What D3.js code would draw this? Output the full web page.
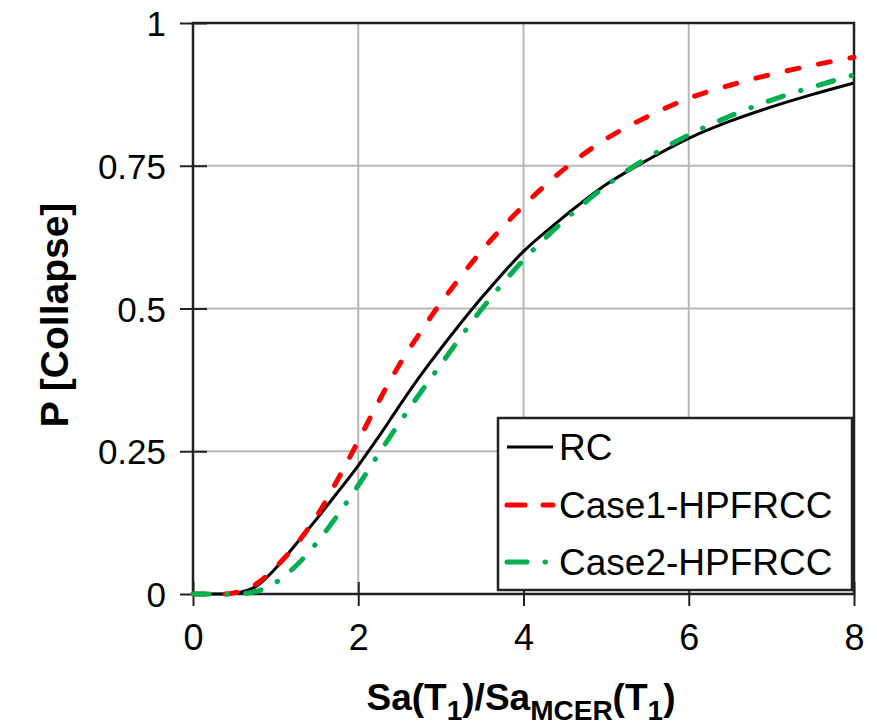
<!DOCTYPE html>
<html>
<head>
<meta charset="utf-8">
<script src="https://cdn.jsdelivr.net/npm/d3@7"></script>
<style>
  body { margin: 0; background: #fff; }
  svg text { font-family: "Liberation Sans", Arial, sans-serif; fill: #000; }
</style>
</head>
<body>
<svg id="chart" width="877" height="725"></svg>
<script>
// values
var xVals = [0, 0.25, 0.5, 0.75, 1, 1.25, 1.5, 1.75, 2, 2.25, 2.5, 2.75, 3, 3.5, 4, 4.5, 5, 5.5, 6, 6.5, 7, 7.5, 8];
var rcVals = [0, 0, 0.001, 0.012, 0.045, 0.088, 0.132, 0.178, 0.225, 0.276, 0.33, 0.382, 0.43, 0.52, 0.6, 0.662, 0.717, 0.76, 0.798, 0.828, 0.853, 0.875, 0.895];
var case1Vals = [0, 0, 0.002, 0.016, 0.047, 0.087, 0.137, 0.2, 0.268, 0.338, 0.402, 0.458, 0.51, 0.602, 0.68, 0.745, 0.797, 0.836, 0.868, 0.891, 0.91, 0.926, 0.94];
var case2Vals = [0, 0, 0, 0.004, 0.02, 0.05, 0.09, 0.138, 0.19, 0.246, 0.3, 0.352, 0.402, 0.5, 0.585, 0.655, 0.715, 0.764, 0.804, 0.837, 0.865, 0.888, 0.909];
var seriesNames = ["RC", "Case1-HPFRCC", "Case2-HPFRCC"];
var xTicks = [0, 2, 4, 6, 8];
var yTicks = [0, 0.25, 0.5, 0.75, 1];
var yTickLabels = ["0", "0.25", "0.5", "0.75", "1"];

var svg = d3.select("#chart");
// plot box (window.top is taken, so own names)
var pLeft = 193, pRight = 854, pTop = 23, pBottom = 594;

var x = d3.scaleLinear().domain([0, 8]).range([pLeft, pRight]);
var y = d3.scaleLinear().domain([0, 1]).range([pBottom, pTop]);

// gridlines
var grid = svg.append("g");
grid.selectAll("line.vx").data(xTicks.slice(1, -1)).enter().append("line")
  .attr("x1", function(d) { return x(d); }).attr("x2", function(d) { return x(d); })
  .attr("y1", pTop).attr("y2", pBottom)
  .attr("stroke", "#b8b8b8").attr("stroke-width", 2);
grid.selectAll("line.hy").data(yTicks.slice(1, -1)).enter().append("line")
  .attr("x1", pLeft).attr("x2", pRight)
  .attr("y1", function(d) { return y(d); }).attr("y2", function(d) { return y(d); })
  .attr("stroke", "#b8b8b8").attr("stroke-width", 2);

// frame
svg.append("rect")
  .attr("x", pLeft).attr("y", pTop)
  .attr("width", pRight - pLeft).attr("height", pBottom - pTop)
  .attr("fill", "none").attr("stroke", "#222").attr("stroke-width", 2.5);

// axes with ticks crossing the frame
var xAxis = svg.append("g")
  .attr("transform", "translate(0," + pBottom + ")")
  .call(d3.axisBottom(x).tickValues(xTicks).tickSize(12).tickPadding(0).tickFormat(d3.format("d")));
xAxis.select(".domain").remove();
xAxis.selectAll(".tick line").attr("y1", -12).attr("stroke", "#222").attr("stroke-width", 2);
xAxis.selectAll(".tick text")
  .attr("y", 56).attr("dy", null)
  .style("font-size", "36px");

var yAxis = svg.append("g")
  .attr("transform", "translate(" + pLeft + ",0)")
  .call(d3.axisLeft(y).tickValues(yTicks).tickSize(13)
    .tickFormat(function(d, i) { return yTickLabels[i]; }));
yAxis.select(".domain").remove();
yAxis.selectAll(".tick line").attr("x1", 14).attr("stroke", "#222").attr("stroke-width", 2);
yAxis.selectAll(".tick text")
  .attr("x", -27).attr("dy", "0.36em")
  .style("font-size", "35px");

// curves
function mkData(vals) {
  return xVals.map(function(v, i) { return { x: v, y: vals[i] }; });
}
var line = d3.line()
  .x(function(d) { return x(d.x); })
  .y(function(d) { return y(d.y); })
  .curve(d3.curveCatmullRom);

var styles = [
  { color: "#000000", width: 3, dash: null, cap: "butt" },
  { color: "#ff0000", width: 5, dash: "12,20", cap: "round" },
  { color: "#00b050", width: 5, dash: "16,18,0.5,18", cap: "round" }
];
var allVals = [rcVals, case1Vals, case2Vals];

allVals.forEach(function(vals, i) {
  svg.append("path")
    .datum(mkData(vals))
    .attr("d", line)
    .attr("fill", "none")
    .attr("stroke", styles[i].color)
    .attr("stroke-width", styles[i].width)
    .attr("stroke-linecap", styles[i].cap)
    .attr("stroke-dasharray", styles[i].dash);
});

// legend
var lg = svg.append("g");
lg.append("rect")
  .attr("x", 498).attr("y", 418).attr("width", 354).attr("height", 172)
  .attr("fill", "#fff").attr("stroke", "#222").attr("stroke-width", 2.5);
var rowY = [447, 505, 562];
seriesNames.forEach(function(name, i) {
  lg.append("line")
    .attr("x1", 507).attr("x2", 553)
    .attr("y1", rowY[i]).attr("y2", rowY[i])
    .attr("stroke", styles[i].color)
    .attr("stroke-width", styles[i].width)
    .attr("stroke-linecap", styles[i].cap)
    .attr("stroke-dasharray", i == 1 ? "18,18" : (i == 2 ? "20,18,0.5,18" : null));
  lg.append("text")
    .attr("x", 559).attr("y", rowY[i] + 13)
    .style("font-size", "37px")
    .text(name);
});

// axis titles
var xt = svg.append("text")
  .attr("x", 521).attr("y", 710)
  .attr("text-anchor", "middle")
  .style("font-size", "37px").style("font-weight", "bold");
xt.append("tspan").text("Sa(T");
xt.append("tspan").attr("dy", 10).style("font-size", "28px").text("1");
xt.append("tspan").attr("dy", -10).text(")/Sa");
xt.append("tspan").attr("dy", 10).style("font-size", "28px").text("MCER");
xt.append("tspan").attr("dy", -10).text("(T");
xt.append("tspan").attr("dy", 10).style("font-size", "28px").text("1");
xt.append("tspan").attr("dy", -10).text(")");

svg.append("text")
  .attr("transform", "translate(68,315) rotate(-90)")
  .attr("text-anchor", "middle")
  .style("font-size", "39px").style("font-weight", "bold")
  .text("P [Collapse]");
</script>
</body>
</html>
